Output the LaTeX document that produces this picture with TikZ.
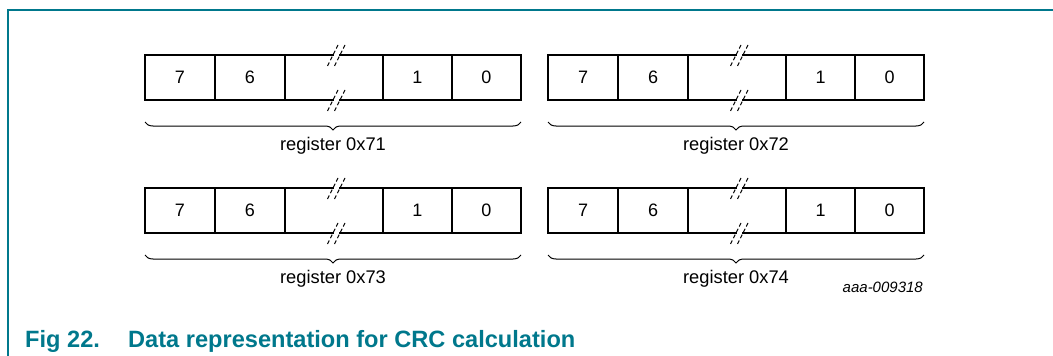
\documentclass[tikz,border=0pt]{standalone}
\usepackage{fontspec}
\setmainfont{Liberation Sans}
\usetikzlibrary{decorations.pathreplacing}
\definecolor{nxpteal}{RGB}{0,120,140}
\tikzset{
  boxline/.style={line width=2.8pt, line cap=rect},
  breakmark/.style={line width=1pt, dash pattern=on 4pt off 2.5pt},
  digit/.style={font=\fontsize{18}{21}\selectfont, inner sep=0pt},
  reglabel/.style={font=\fontsize{18.3}{21}\selectfont, inner sep=0pt, anchor=base},
  bracestyle/.style={line width=1pt, decorate, decoration={brace, amplitude=8pt}},
}
\newcommand{\registerdraw}[4]{%
  % #1 ox, #2 oy, #3 name, #4 label
  \begin{scope}[shift={(#1,#2)}]
    \coordinate (#3tl) at (0,0);
    \coordinate (#3bl) at (0,45);
    \coordinate (#3tr) at (376,0);
    \coordinate (#3br) at (376,45);
    \coordinate (#3gtl) at (188,0);
    \coordinate (#3gtr) at (195,0);
    \coordinate (#3gbl) at (188,45);
    \coordinate (#3gbr) at (195,45);
    \draw[boxline] (#3gtl) -- (#3tl) -- (#3bl) -- (#3gbl);
    \draw[boxline] (#3gtr) -- (#3tr) -- (#3br) -- (#3gbr);
    \foreach \xx in {70,140,238,307} \draw[boxline] (\xx,0) -- (\xx,45);
    \foreach \yy in {0,45} {
      \draw[breakmark] (188-5.5,\yy+11) -- (188+5.5,\yy-11);
      \draw[breakmark] (195-5.5,\yy+11) -- (195+5.5,\yy-11);
    }
    \node[digit] (#3b7) at (35,22.5) {7};
    \node[digit] (#3b6) at (105,22.5) {6};
    \node[digit] (#3b1) at (272.5,22.5) {1};
    \node[digit] (#3b0) at (341.5,22.5) {0};
    \draw[bracestyle] (376,67) -- (0,67);
    \node[reglabel] (#3lab) at (188,95) {#4};
  \end{scope}}
\begin{document}
\begin{tikzpicture}[x=1pt,y=-1pt]
  \useasboundingbox (0,0) rectangle (1053,356);
  \draw[nxpteal, line width=1.8pt] (8,356) -- (8,10) -- (1053,10);
  \registerdraw{145}{55}{ra}{register 0x71}
  \registerdraw{548}{55}{rb}{register 0x72}
  \registerdraw{145}{188}{rc}{register 0x73}
  \registerdraw{548}{188}{rd}{register 0x74}
  \node[font=\fontsize{15}{17}\itshape, anchor=base east, inner sep=0pt] (code) at (923,292) {aaa-009318};
  \node[font=\fontsize{23.6}{26}\bfseries, text=nxpteal, anchor=base west, inner sep=0pt] (figno) at (25,347) {Fig 22.};
  \node[font=\fontsize{23.6}{26}\bfseries, text=nxpteal, anchor=base west, inner sep=0pt] (figtitle) at (128,347) {Data representation for CRC calculation};
\end{tikzpicture}
\end{document}
